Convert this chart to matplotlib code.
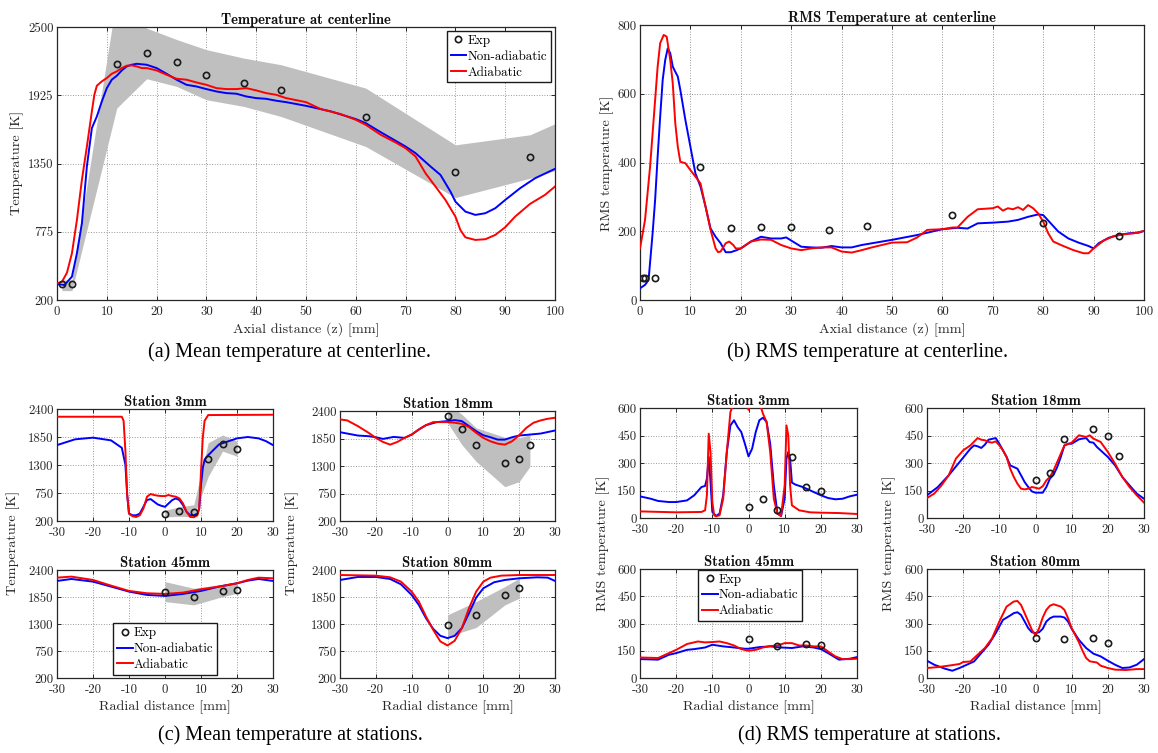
import matplotlib
matplotlib.use("Agg")
import matplotlib.pyplot as plt

# ---------------- (a) mean temperature at centerline ----------------
a_exp_z = [1, 3, 12, 18, 24, 30, 37.5, 45, 62, 80, 95]
a_exp_T = [335, 335, 2191, 2281, 2205, 2095, 2025, 1966, 1738, 1282, 1406]
a_band_z = [1, 3, 12, 18, 24, 30, 37.5, 45, 62, 80, 95, 100]
a_band_lo = [279, 279, 1817, 2064, 2000, 1887, 1831, 1746, 1493, 1063, 1226, 1290]
a_band_hi = [369, 369, 2750, 2490, 2395, 2309, 2238, 2182, 1985, 1507, 1592, 1685]
a_nonad_z = [0, 1.5, 3, 4, 5, 6, 7, 8, 9, 10, 11, 12, 13, 14, 15, 16, 18, 20, 22, 24,
             26, 28, 30, 32, 34, 36, 38, 40, 42, 44, 46, 50, 55, 60, 62, 65, 70, 72, 75, 77,
             79, 80, 82, 84, 86, 88, 90, 93, 96, 100]
a_nonad_T = [335, 326, 397, 594, 847, 1325, 1648, 1746, 1873, 1985, 2056, 2089, 2134, 2168, 2182, 2190, 2182, 2154, 2106, 2056,
             2013, 1999, 1977, 1957, 1943, 1938, 1915, 1901, 1895, 1879, 1867, 1836, 1789, 1724, 1690, 1614, 1493, 1437, 1325, 1254,
             1114, 1029, 945, 917, 931, 973, 1043, 1142, 1226, 1305]
a_ad_z = [0, 1, 2, 3, 4, 5, 6, 7, 7.5, 8, 9, 10, 11, 12, 13, 14, 15, 16, 17, 18,
          20, 22, 24, 26, 28, 30, 32, 34, 36, 38, 40, 42, 44, 46, 50, 53, 57, 60, 62, 65,
          68, 70, 72, 74, 76, 78, 80, 81, 82, 84, 86, 88, 90, 92, 95, 98, 100]
a_ad_T = [340, 354, 430, 594, 875, 1212, 1493, 1789, 1929, 2005, 2042, 2070, 2106, 2126, 2154, 2174, 2177, 2168, 2154, 2154,
          2134, 2098, 2064, 2056, 2033, 2013, 1985, 1977, 1977, 1985, 1966, 1943, 1929, 1901, 1867, 1808, 1766, 1718, 1676, 1592,
          1527, 1479, 1409, 1268, 1156, 1043, 903, 790, 728, 706, 712, 748, 813, 903, 1010, 1086, 1156]

# ---------------- (b) RMS temperature at centerline ----------------
b_exp_z = [0.6, 1, 3, 12, 18, 24, 30, 37.5, 45, 62, 80, 95]
b_exp_T = [63, 63, 63, 388, 210, 212, 213, 205, 216, 247, 223, 186]
b_nonad_z = [0, 1, 1.7, 2.5, 3, 3.5, 4, 4.5, 5, 5.5, 6, 6.5, 7, 7.5, 8, 9, 10, 11, 12, 13,
             14, 15, 16, 17, 18, 19, 20, 22, 24, 26, 28, 29, 30, 32, 34, 36, 38, 40, 42, 44,
             46, 50, 55, 60, 63, 65, 67, 70, 73, 75, 77, 79, 80, 81, 83, 85, 87, 89, 90, 91,
             93, 95, 97, 99, 100]
b_nonad_T = [34, 44, 58, 194, 291, 417, 533, 640, 698, 732, 718, 679, 664, 650, 611, 524, 446, 368, 330, 272,
             208, 184, 165, 139, 139, 144, 150, 170, 184, 179, 179, 182, 173, 155, 153, 152, 157, 153, 153, 160,
             165, 175, 189, 206, 210, 208, 223, 225, 228, 233, 242, 249, 247, 231, 199, 179, 167, 157, 150, 165,
             181, 189, 194, 196, 201]
b_ad_z = [0, 1, 2, 3, 3.5, 4, 4.7, 5.3, 6, 6.5, 7, 7.5, 8, 9, 10, 11, 12, 13, 14, 15,
          15.5, 16, 17, 17.7, 18.5, 19, 20, 22, 24, 26, 28, 30, 32, 34, 36, 38, 40, 42, 44, 46,
          50, 53, 55, 57, 60, 62, 63, 65, 67, 70, 71, 72, 73, 74, 75, 76, 77, 78, 79, 80,
          81, 82, 84, 86, 88, 89, 90, 92, 94, 96, 98, 100]
b_ad_T = [150, 233, 388, 582, 679, 747, 771, 766, 698, 630, 514, 446, 402, 398, 378, 359, 339, 272, 204, 150,
          139, 141, 165, 170, 160, 150, 150, 170, 176, 175, 160, 150, 145, 150, 153, 153, 141, 138, 145, 153,
          167, 168, 182, 204, 206, 211, 211, 242, 264, 267, 272, 260, 267, 264, 270, 262, 276, 267, 252, 228,
          194, 170, 157, 145, 136, 136, 150, 173, 186, 191, 194, 201]

# ---------------- (c) mean temperature at stations ----------------
c3_exp_r = [0, 4, 8, 12, 16, 20]
c3_exp_T = [346, 392, 379, 1419, 1717, 1605]
c3_band_lo = [279, 293, 280, 1075, 1572, 1472]
c3_band_hi = [412, 478, 520, 1737, 1890, 1770]
c3_ad_r = [-30, -12, -11.5, -11, -10.5, -10, -9, -8, -7, -6, -5, -4, -3, -2, -1, 0, 1, 2, 3, 4,
           5, 6, 7, 8, 9, 9.5, 10, 10.5, 11, 12, 30]
c3_ad_T = [2248, 2248, 2168, 1572, 710, 346, 293, 279, 312, 445, 677, 730, 710, 697, 690, 690, 710, 690, 677, 644,
           545, 379, 279, 273, 312, 445, 1174, 1837, 2168, 2281, 2287]
c3_nonad_r = [-30, -25, -20, -15, -12, -11, -10.5, -10, -9, -8, -7, -6, -5, -4, -3, -2, -1, 0, 1, 2,
              3, 4, 5, 6, 7, 8, 9, 9.5, 10, 10.5, 11, 12, 15, 20, 23, 26, 28, 30]
c3_nonad_T = [1691, 1804, 1837, 1784, 1638, 1307, 710, 346, 312, 312, 346, 478, 611, 631, 578, 525, 498, 478, 545, 611,
              644, 611, 512, 379, 312, 312, 346, 445, 909, 1240, 1406, 1492, 1704, 1823, 1850, 1823, 1770, 1691]

c18_exp_r = [0, 4, 8, 16, 20, 23]
c18_exp_T = [2299, 2043, 1714, 1357, 1445, 1714]
c18_band_lo = [2165, 1727, 1391, 886, 987, 1290]
c18_band_hi = [2550, 2333, 2063, 1875, 1862, 1929]
c18_ad_r = [-30, -28, -25, -22, -20, -18, -16, -14, -12, -10, -8, -6, -4, -2, 0, 2, 4, 6, 8, 10,
            12, 14, 16, 18, 20, 22, 24, 26, 28, 30]
c18_ad_T = [2232, 2212, 2097, 1963, 1862, 1781, 1727, 1781, 1862, 1929, 2030, 2117, 2178, 2178, 2178, 2165, 2144, 2077, 1963, 1862,
            1794, 1747, 1727, 1794, 1915, 2063, 2165, 2212, 2245, 2265]
c18_nonad_r = [-30, -25, -22, -20, -18, -15, -12, -10, -8, -6, -3, 0, 2, 4, 6, 8, 10, 12, 14, 16,
               18, 20, 23, 26, 30]
c18_nonad_T = [1976, 1909, 1896, 1875, 1842, 1882, 1862, 1929, 2030, 2117, 2178, 2198, 2218, 2198, 2097, 1996, 1915, 1875, 1828, 1828,
               1875, 1909, 1929, 1949, 2010]

c45_exp_r = [0, 8, 16, 20]
c45_exp_T = [1960, 1852, 1980, 2000]
c45_band_lo = [1757, 1689, 1858, 1926]
c45_band_hi = [2163, 2028, 2109, 2163]
c45_r = [-30, -26, -20, -15, -10, -5, 0, 5, 10, 15, 20, 23, 26, 30]
c45_ad_T = [2244, 2265, 2197, 2082, 1974, 1926, 1913, 1940, 2007, 2062, 2129, 2197, 2244, 2231]
c45_nonad_T = [2177, 2217, 2163, 2062, 1960, 1892, 1872, 1913, 1974, 2062, 2129, 2183, 2217, 2177]

c80_exp_r = [0, 8, 16, 20]
c80_exp_T = [1276, 1486, 1886, 2028]
c80_band_lo = [1046, 1229, 1689, 1825]
c80_band_hi = [1486, 1757, 2062, 2231]
c80_ad_r = [-30, -20, -16, -13, -10, -8, -6, -4, -2, 0, 2, 4, 6, 8, 10, 12, 15, 20, 30]
c80_ad_T = [2298, 2285, 2251, 2163, 1960, 1757, 1452, 1182, 945, 863, 958, 1216, 1622, 1960, 2163, 2244, 2285, 2298, 2298]
c80_nonad_r = [-30, -25, -20, -16, -13, -10, -8, -6, -4, -2, 0, 2, 4, 6, 8, 10, 13, 16, 20, 25, 28, 30]
c80_nonad_T = [2197, 2258, 2258, 2217, 2109, 1892, 1689, 1418, 1202, 1060, 1012, 1060, 1216, 1520, 1838, 2028, 2150, 2197, 2231, 2251, 2244, 2177]

# ---------------- (d) RMS temperature at stations ----------------
d3_exp_r = [0, 4, 8, 12, 16, 20]
d3_exp_T = [60, 102, 45, 335, 169, 145]
d3_nonad_r = [-30, -27, -25, -22, -20, -17, -15, -13, -12, -11.5, -11, -10.5, -10, -9, -8, -7, -6, -5, -4, -3,
              -2, -1, 0, 1, 2, 3, 4, 5, 6, 7, 8, 9, 10, 10.5, 11, 11.5, 12, 13, 15, 17,
              20, 22, 24, 26, 28, 30]
d3_nonad_T = [118, 105, 93, 87, 87, 96, 124, 169, 175, 215, 333, 196, 33, 11, 24, 124, 360, 505, 533, 496,
              469, 405, 336, 378, 469, 533, 547, 524, 405, 178, 24, 11, 105, 324, 360, 324, 193, 182, 169, 151,
              124, 109, 102, 105, 118, 127]
d3_ad_r = [-30, -20, -13, -12, -11.5, -11, -10.5, -10, -9.5, -9, -8, -7, -6, -5, -4.5, -4, -2, -1, 0, 1,
           2, 3, 3.5, 4, 5, 6, 7, 8, 9, 10, 10.5, 11, 11.5, 12, 14, 17, 20, 25, 30]
d3_ad_T = [36, 31, 33, 42, 124, 460, 360, 87, 15, 9, 15, 105, 360, 578, 605, 640, 650, 640, 590, 640,
           650, 620, 600, 569, 524, 360, 105, 24, 11, 178, 505, 451, 178, 69, 42, 31, 29, 27, 22]

d18_exp_r = [0, 4, 8, 16, 20, 23]
d18_exp_T = [209, 245, 433, 485, 447, 338]
d18_nonad_r = [-30, -27, -24, -21, -18, -17, -16, -15, -14, -13, -11, -10, -9, -8, -7, -6, -5, -4, -3, -2,
               -1, 0, 2, 3, 4, 5, 6, 7, 8, 9, 10, 12, 13, 14, 15, 16, 17, 18, 20, 22,
               24, 26, 28, 30]
d18_nonad_T = [124, 169, 233, 305, 378, 396, 391, 382, 400, 427, 436, 405, 369, 333, 287, 278, 269, 233, 196, 169,
               145, 138, 138, 169, 215, 236, 278, 333, 396, 405, 405, 429, 433, 436, 414, 411, 387, 369, 333, 287,
               224, 178, 133, 105]
d18_ad_r = [-30, -28, -26, -24, -22, -20, -18, -16, -15, -14, -13, -12, -11, -10, -9, -8, -7, -6, -5, -4,
            -3, -2, -1, 0, 1, 2, 3, 4, 5, 6, 7, 8, 10, 12, 14, 15, 16, 18, 20, 22,
            24, 26, 28, 30]
d18_ad_T = [109, 133, 178, 233, 324, 369, 396, 436, 427, 424, 415, 411, 418, 396, 369, 333, 269, 224, 187, 160,
            156, 160, 169, 165, 160, 173, 205, 224, 260, 305, 351, 396, 411, 451, 442, 451, 433, 415, 360, 296,
            224, 169, 124, 84]

d45_exp_r = [0, 8, 16, 20]
d45_exp_T = [214, 174, 187, 183]
d45_nonad_r = [-30, -25, -22, -20, -17, -15, -12, -10, -7, -4, -1, 0, 3, 6, 9, 12, 15, 18, 20, 22, 25, 28, 30]
d45_nonad_T = [104, 101, 128, 137, 155, 159, 168, 183, 174, 168, 161, 161, 170, 174, 168, 165, 174, 168, 159, 137, 101, 106, 115]
d45_ad_r = [-30, -25, -22, -20, -17, -14, -12, -10, -8, -6, -4, -2, 0, 2, 4, 6, 8, 10, 12, 14,
            16, 18, 20, 22, 24, 26, 28, 30]
d45_ad_T = [113, 110, 137, 155, 187, 201, 196, 198, 201, 192, 179, 159, 150, 155, 168, 176, 179, 192, 192, 179,
            179, 174, 174, 146, 119, 104, 104, 106]

d80_exp_r = [0, 8, 16, 20]
d80_exp_T = [219, 216, 219, 194]
d80_nonad_r = [-30, -28, -25, -23, -21, -19, -17, -15, -13, -11, -9, -7, -6, -5, -4, -3, -2, -1, 0, 1,
               2, 3, 4, 5, 7, 8, 9, 10, 12, 14, 16, 18, 20, 22, 24, 26, 28, 30]
d80_nonad_T = [95, 73, 51, 40, 55, 73, 91, 137, 183, 247, 320, 344, 357, 362, 347, 311, 274, 252, 247, 252,
               271, 311, 329, 338, 338, 333, 311, 271, 210, 165, 134, 119, 95, 73, 55, 58, 73, 104]
d80_ad_r = [-30, -27, -24, -21, -20, -18, -16, -14, -12, -10, -8, -6, -5, -4, -3, -2, -1, 0, 1, 2,
            3, 4, 5, 7, 8, 9, 10, 12, 13, 14, 15, 17, 18, 20, 22, 25, 28, 30]
d80_ad_T = [55, 60, 68, 77, 88, 91, 128, 165, 219, 311, 393, 421, 424, 402, 357, 311, 265, 234, 274, 333,
            375, 398, 406, 393, 375, 329, 274, 197, 150, 110, 92, 85, 68, 55, 46, 44, 49, 49]

labels = ["Exp", "Non-adiabatic", "Adiabatic"]

# ---------------- style ----------------
plt.rcParams["font.family"] = "cmr10"
plt.rcParams["axes.unicode_minus"] = False
plt.rcParams["axes.formatter.use_mathtext"] = False
AX_COL = "#262626"
BLUE = "#0000ff"
RED = "#ff0000"
BAND = "#bfbfbf"
W, H = 1158, 753
TICK_FS = 9.2
LAB_FS = 10.2
TITLE_FS = 10.5

fig = plt.figure(figsize=(W / 100, H / 100), dpi=100)


def px_axes(l, t, r, b):
    return fig.add_axes([l / W, 1 - b / H, (r - l) / W, (b - t) / H])


def style(ax, xlim, xticks, ylim, yticks, title):
    ax.set_xlim(xlim)
    ax.set_ylim(ylim)
    ax.set_xticks(xticks)
    ax.set_yticks(yticks)
    ax.grid(True, ls=":", color="0.6", lw=0.7)
    ax.set_axisbelow(True)
    ax.tick_params(direction="in", length=3, width=0.7, top=True, right=True,
                   labelsize=TICK_FS, colors=AX_COL)
    ax.tick_params(axis="x", pad=4.5)
    ax.tick_params(axis="y", pad=2.5)
    for s in ax.spines.values():
        s.set_color(AX_COL)
        s.set_linewidth(0.9)
    ax.set_title(title, family="cmb10", fontsize=TITLE_FS, color="#111111", pad=2.5)


def draw(ax, ex, ey, nx, ny, dx, dy):
    h1, = ax.plot(ex, ey, "o", mfc="none", mec="#1a1a1a", ms=4.5, mew=1.2, zorder=4)
    h2, = ax.plot(nx, ny, color=BLUE, lw=1.4, zorder=3)
    h3, = ax.plot(dx, dy, color=RED, lw=1.4, zorder=3)
    return [h1, h2, h3]


def add_legend(ax, handles, **kw):
    leg = ax.legend(handles, labels, fontsize=9.4, handlelength=1.2, handletextpad=0.1,
                    borderpad=0.3, labelspacing=0.28, fancybox=False,
                    framealpha=1, edgecolor="#1a1a1a", **kw)
    leg.get_frame().set_linewidth(1.0)
    return leg


def ylab(x, y, text):
    fig.text(x / W, 1 - y / H, text, rotation=90, fontsize=LAB_FS,
             color=AX_COL, ha="center", va="center")


# (a)
ax = px_axes(57, 27, 555, 300)
style(ax, (0, 100), range(0, 101, 10), (200, 2500), [200, 775, 1350, 1925, 2500],
      "Temperature at centerline")
ax.fill_between(a_band_z, a_band_lo, a_band_hi, color=BAND, lw=0, zorder=1)
hs = draw(ax, a_exp_z, a_exp_T, a_nonad_z, a_nonad_T, a_ad_z, a_ad_T)
ax.set_xlabel("Axial distance (z) [mm]", fontsize=LAB_FS, color=AX_COL, labelpad=3.5)
add_legend(ax, hs, loc="upper right", borderaxespad=0.3)
ylab(17, 163, "Temperature [K]")

# (b)
ax = px_axes(640, 25, 1144, 300)
style(ax, (0, 100), range(0, 101, 10), (0, 800), range(0, 801, 200),
      "RMS Temperature at centerline")
draw(ax, b_exp_z, b_exp_T, b_nonad_z, b_nonad_T, b_ad_z, b_ad_T)
ax.set_xlabel("Axial distance (z) [mm]", fontsize=LAB_FS, color=AX_COL, labelpad=3.5)
ylab(607, 163, "RMS temperature [K]")

# (c)
c_yt = [200, 750, 1300, 1850, 2400]
r_xt = range(-30, 31, 10)
c_panels = [
    ((57, 409, 273, 521), "Station 3mm", c3_exp_r, c3_exp_T, c3_band_lo, c3_band_hi,
     c3_nonad_r, c3_nonad_T, c3_ad_r, c3_ad_T),
    ((340, 411, 555, 521), "Station 18mm", c18_exp_r, c18_exp_T, c18_band_lo, c18_band_hi,
     c18_nonad_r, c18_nonad_T, c18_ad_r, c18_ad_T),
    ((57, 570, 273, 678), "Station 45mm", c45_exp_r, c45_exp_T, c45_band_lo, c45_band_hi,
     c45_r, c45_nonad_T, c45_r, c45_ad_T),
    ((340, 570, 555, 678), "Station 80mm", c80_exp_r, c80_exp_T, c80_band_lo, c80_band_hi,
     c80_nonad_r, c80_nonad_T, c80_ad_r, c80_ad_T),
]
c_axes = []
for box, title, er, eT, lo, hi, nr, nT, ar, aT in c_panels:
    ax = px_axes(*box)
    style(ax, (-30, 30), r_xt, (200, 2400), c_yt, title)
    ax.fill_between(er, lo, hi, color=BAND, lw=0, zorder=1)
    hs = draw(ax, er, eT, nr, nT, ar, aT)
    c_axes.append((ax, hs))
for ax, _ in c_axes[2:]:
    ax.set_xlabel("Radial distance [mm]", fontsize=LAB_FS, color=AX_COL, labelpad=3)
add_legend(c_axes[2][0], c_axes[2][1], loc="lower left",
           bbox_to_anchor=(0.259, 0.028), borderaxespad=0)
ylab(13, 543, "Temperature [K]")
ylab(292, 543, "Temperature [K]")

# (d)
d_yt = range(0, 601, 150)
d_panels = [
    ((640, 408, 857, 518), "Station 3mm", d3_exp_r, d3_exp_T, d3_nonad_r, d3_nonad_T, d3_ad_r, d3_ad_T),
    ((927, 408, 1144, 518), "Station 18mm", d18_exp_r, d18_exp_T, d18_nonad_r, d18_nonad_T, d18_ad_r, d18_ad_T),
    ((640, 569, 857, 678), "Station 45mm", d45_exp_r, d45_exp_T, d45_nonad_r, d45_nonad_T, d45_ad_r, d45_ad_T),
    ((927, 569, 1144, 678), "Station 80mm", d80_exp_r, d80_exp_T, d80_nonad_r, d80_nonad_T, d80_ad_r, d80_ad_T),
]
d_axes = []
for box, title, er, eT, nr, nT, ar, aT in d_panels:
    ax = px_axes(*box)
    style(ax, (-30, 30), r_xt, (0, 600), d_yt, title)
    hs = draw(ax, er, eT, nr, nT, ar, aT)
    d_axes.append((ax, hs))
for ax, _ in d_axes[2:]:
    ax.set_xlabel("Radial distance [mm]", fontsize=LAB_FS, color=AX_COL, labelpad=3)
add_legend(d_axes[2][0], d_axes[2][1], loc="upper left",
           bbox_to_anchor=(0.267, 0.995), borderaxespad=0)
ylab(603, 543, "RMS temperature [K]")
ylab(889, 543, "RMS temperature [K]")

# captions
cap = dict(family="Liberation Serif", fontsize=14.5, ha="center", va="center", color="black")
fig.text(290 / W, 1 - 352 / H, "(a) Mean temperature at centerline.", **cap)
fig.text(868 / W, 1 - 352 / H, "(b) RMS temperature at centerline.", **cap)
fig.text(290 / W, 1 - 735 / H, "(c) Mean temperature at stations.", **cap)
fig.text(870 / W, 1 - 735 / H, "(d) RMS temperature at stations.", **cap)

fig.savefig("out.png", dpi=100, facecolor="white")
